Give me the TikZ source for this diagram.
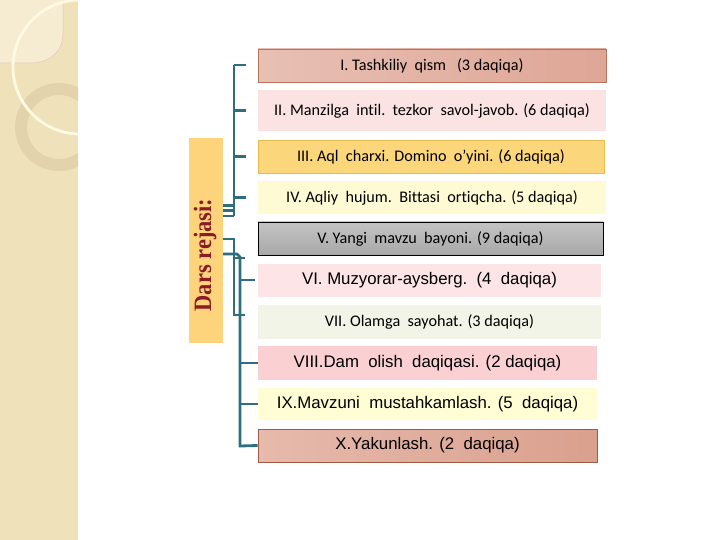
\documentclass[tikz,border=0pt]{standalone}
\usepackage{fontspec}
\setmainfont[Ligatures=CommonOff]{Carlito}
\newfontfamily\arialf{Liberation Sans}
\newfontfamily\titlef{Liberation Serif}
\definecolor{strip}{RGB}{239,225,186}
\definecolor{stripL}{RGB}{245,236,210}
\definecolor{ringc}{RGB}{226,211,172}
\definecolor{arcc}{RGB}{255,250,228}
\definecolor{conncol}{RGB}{47,110,128}
\definecolor{barcol}{RGB}{253,212,124}
\definecolor{titlecol}{RGB}{139,28,36}
\definecolor{c1a}{RGB}{232,192,180}
\definecolor{c1b}{RGB}{222,166,150}
\definecolor{c1d}{RGB}{184,115,94}
\definecolor{c2}{RGB}{251,227,228}
\definecolor{c3}{RGB}{252,214,122}
\definecolor{c3d}{RGB}{232,186,80}
\definecolor{c4}{RGB}{254,251,212}
\definecolor{c5a}{RGB}{196,196,196}
\definecolor{c5b}{RGB}{168,168,168}
\definecolor{c6}{RGB}{253,228,230}
\definecolor{c7}{RGB}{241,244,230}
\definecolor{c8}{RGB}{251,208,211}
\definecolor{c9}{RGB}{254,253,211}
\definecolor{c10a}{RGB}{230,186,172}
\definecolor{c10b}{RGB}{218,160,142}
\definecolor{c10d}{RGB}{157,91,69}
\tikzset{
  item/.style={inner sep=0pt, text=black, font=\fontsize{16.2}{18}\selectfont},
  itemA/.style={inner sep=0pt, text=black, font=\arialf\fontsize{16.8}{19}\selectfont},
  conn/.style={draw=conncol, line width=2.8pt},
}
\begin{document}
\begin{tikzpicture}[x=1pt,y=-1pt]
\useasboundingbox (0,0) rectangle (720,540);
\fill[white] (0,0) rectangle (720,540);
% left decorative strip
\fill[strip] (0,0) rectangle (78,540);
\begin{scope}
\clip (0,0) rectangle (78,540);
\fill[stripL] (0,0) -- (63,0) -- (63,33) .. controls (63,52) and (50,63) .. (30,63) -- (0,63) -- cycle;
\draw[c1d!40, line width=0.5pt] (63,0) -- (63,33) .. controls (63,52) and (50,63) .. (30,63) -- (0,63);
\fill[ringc, even odd rule] (59,127) circle[radius=44] (59,127) circle[radius=32];
\draw[arcc, line width=2.8pt] (80,67) circle[radius=67];
\end{scope}
% side bar
\node[fill=barcol, minimum width=34pt, minimum height=205pt, inner sep=0pt] (bar) at (206,240.5) {};
\node[rotate=90, text=titlecol, inner sep=0pt, font=\titlef\bfseries\fontsize{25}{27}\selectfont] (title) at (205,255) {\scalebox{0.9}[1]{Dars rejasi:}};
% boxes
\node[item, draw=c1d, line width=0.8pt, left color=c1a, right color=c1b, minimum width=348pt, minimum height=33pt] (b1) at (432,65.5) {I. Tashkiliy\ \ qism\ \ \ (3 daqiqa)};
\node[item, fill=c2, minimum width=348pt, minimum height=41pt] (b2) at (432,110.5) {II. Manzilga\ \ intil.\ \ tezkor\ \ savol-javob. (6 daqiqa)};
\node[item, fill=c3, draw=c3d, line width=0.8pt, minimum width=346pt, minimum height=33pt] (b3) at (431,156.5) {III. Aql\ \ charxi. Domino\ \ o'yini. (6 daqiqa)};
\node[item, fill=c4, minimum width=348pt, minimum height=33pt] (b4) at (432,197.5) {IV. Aqliy\ \ hujum.\ \ Bittasi\ \ ortiqcha. (5 daqiqa)};
\node[item, draw=black, line width=0.8pt, top color=c5a, bottom color=c5b, minimum width=345pt, minimum height=33pt] (b5) at (430.5,238.5) {V. Yangi\ \ mavzu\ \ bayoni. (9 daqiqa)};
\node[itemA, fill=c6, minimum width=343pt, minimum height=33pt] (b6) at (429.5,280.5) {VI. Muzyorar-aysberg.\ \ (4\ \ daqiqa)};
\node[item, fill=c7, minimum width=343pt, minimum height=34pt] (b7) at (429.5,322) {VII. Olamga\ \ sayohat. (3 daqiqa)};
\node[itemA, fill=c8, minimum width=339pt, minimum height=34pt] (b8) at (427.5,363) {VIII.Dam\ \ olish\ \ daqiqasi. (2 daqiqa)};
\node[itemA, fill=c9, minimum width=339pt, minimum height=32pt] (b9) at (427.5,404) {IX.Mavzuni\ \ mustahkamlash. (5\ \ daqiqa)};
\node[itemA, draw=c10d, line width=0.8pt, left color=c10a, right color=c10b, minimum width=339pt, minimum height=33pt] (b10) at (427.5,445.5) {X.Yakunlash. (2\ \ daqiqa)};
% connectors
\coordinate (s1) at (234,65);
\coordinate (s4) at (234,216);
\draw[conn] (s1) -- (s4);
\draw[conn] (s1) -- ++(12,0);
\draw[conn] (b2.west -| s1) -- ++(12,0);
\draw[conn] (b3.west -| s1) -- ++(12,0);
\draw[conn] (b4.west -| s1) -- ++(12,0);
\draw[conn] (bar.east |- 0,205.5) -- (234,205.5);
\draw[conn] (bar.east |- 0,210.5) -- (234,210.5);
\draw[conn] (bar.east |- 0,216) -- (234,216);
\draw[conn] (bar.east |- 0,239) -- (234,239) -- (234,315) -- (245,315);
\draw[conn] (234,258) -- (245,258);
\draw[conn] (bar.east |- 0,254) -- (237,254) -- (240,257) -- (240,446) -- (b10.west);
\draw[conn] (240,280) -- (255,280);
\draw[conn] (240,363) -- (b8.west);
\draw[conn] (240,404) -- (b9.west);
\end{tikzpicture}
\end{document}
